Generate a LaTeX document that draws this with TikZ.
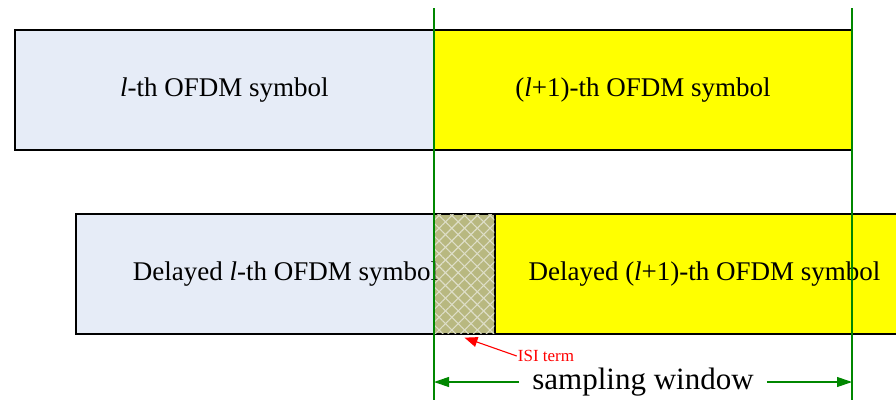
\documentclass[tikz,border=0pt]{standalone}
\usepackage{fontspec}
\setmainfont{Liberation Serif}
\usetikzlibrary{arrows.meta,patterns.meta,positioning}
\definecolor{symblue}{RGB}{230,236,247}
\definecolor{symyellow}{RGB}{255,255,0}
\definecolor{isiolive}{RGB}{184,184,128}
\definecolor{isiline}{RGB}{222,222,200}
\definecolor{wingreen}{RGB}{0,135,0}
\tikzset {
  >=Stealth,
  every node/.style={font=\fontsize{27}{32}\selectfont},
  symbox/.style={draw=black,line width=1.3pt,inner sep=0pt,
    minimum width=419pt,minimum height=120pt},
  winline/.style={draw=wingreen,line width=1.1pt},
  winarrow/.style={wingreen,line width=1.1pt,-{Triangle[length=15pt,width=10pt]}},
}

\begin{document}
\begin{tikzpicture}[x=1pt,y=-1pt]
  \useasboundingbox (0,0) rectangle (896,400);
  \clip (0,0) rectangle (896,400);

  % transmitted symbols
  \node[symbox,fill=symblue] (sym) at (224.5,90) {};
  \node[symbox,fill=symyellow,minimum width=418pt] (symnext) at (643,90) {};
  \node at (sym.center) {\textit{l}-th OFDM symbol};
  \node at (symnext.center) {(\textit{l}+1)-th OFDM symbol};

  % delayed symbols
  \node[symbox,fill=symblue] (dsym) at (285.5,274) {};
  \node[symbox,fill=symyellow] (dsymnext) at (704.5,274) {};
  \node[symbox,fill=isiolive,minimum width=61pt] (isi) at (464.5,274) {};
  \path[pattern={Lines[angle=45,distance=9pt,line width=1.1pt]},pattern color=isiline]
    (434.6,214.6) rectangle (494.4,333.4);
  \path[pattern={Lines[angle=-45,distance=9pt,line width=1.1pt]},pattern color=isiline]
    (434.6,214.6) rectangle (494.4,333.4);
  \draw[line width=1.3pt] (isi.north west) rectangle (isi.south east);
  \node at (dsym.center) {Delayed \textit{l}-th OFDM symbol};
  \node at (dsymnext.center) {Delayed (\textit{l}+1)-th OFDM symbol};

  % sampling window
  \coordinate (wl) at (434,8);
  \coordinate (wr) at (852,8);
  \draw[winline] (wl) -- (wl |- 0,400);
  \draw[winline] (wr) -- (wr |- 0,400);
  \node[font=\fontsize{31}{36}\selectfont,inner sep=0pt] (win) at (643,382) {sampling window};
  \draw[winarrow] ([xshift=-13pt]win.west) -- (wl |- win.west);
  \draw[winarrow] ([xshift=13pt]win.east) -- (wr |- win.east);

  \node[red,font=\fontsize{17}{20}\selectfont,inner sep=1pt] (isiterm) at (546,356) {ISI term};
  \draw[red,line width=1.1pt,-{Triangle[length=13pt,width=10pt]}]
    (isiterm.west) -- ([yshift=-3pt]isi.south);
\end{tikzpicture}
\end{document}
